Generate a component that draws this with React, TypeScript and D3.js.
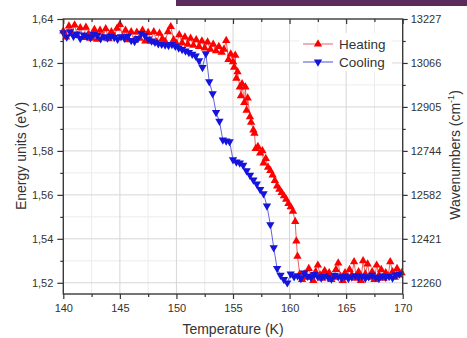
import React, { useEffect, useRef } from 'react';
import * as d3 from 'd3';

// tick values and labels
const tempTicks = [140, 145, 150, 155, 160, 165, 170];
const tempMinor = [142.5, 147.5, 152.5, 157.5, 162.5, 167.5];
const energyTicks = [1.52, 1.54, 1.56, 1.58, 1.6, 1.62, 1.64];
const energyMinor = [1.53, 1.55, 1.57, 1.59, 1.61, 1.63];
const energyLabels = ['1,52', '1,54', '1,56', '1,58', '1,60', '1,62', '1,64'];
const waveLabels = ['12260', '12421', '12582', '12744', '12905', '13066', '13227'];

// [temperature K, energy eV]
const heating: [number, number][] = [
  [140.0, 1.6345], [140.25, 1.6318], [140.5, 1.6368], [140.75, 1.6335], [141.0, 1.6372],
  [141.25, 1.6325], [141.5, 1.6360], [141.75, 1.6315], [142.0, 1.6362], [142.25, 1.6330],
  [142.5, 1.6312], [142.75, 1.6352], [143.0, 1.6308], [143.25, 1.6348], [143.5, 1.6318],
  [143.75, 1.6355], [144.0, 1.6310], [144.25, 1.6342], [144.5, 1.6322], [144.75, 1.6358],
  [145.0, 1.6375], [145.25, 1.6318], [145.5, 1.6348], [145.75, 1.6305], [146.0, 1.6342],
  [146.25, 1.6302], [146.5, 1.6340], [146.75, 1.6312], [147.0, 1.6348], [147.25, 1.6300],
  [147.5, 1.6338], [147.75, 1.6298], [148.0, 1.6342], [148.25, 1.6295], [148.5, 1.6335],
  [148.75, 1.6310], [149.0, 1.6298], [149.25, 1.6342], [149.5, 1.6365], [149.75, 1.6305],
  [150.0, 1.6288], [150.25, 1.6328], [150.5, 1.6292], [150.75, 1.6318], [151.0, 1.6285],
  [151.25, 1.6312], [151.5, 1.6280], [151.75, 1.6305], [152.0, 1.6275], [152.25, 1.6300],
  [152.5, 1.6268], [152.75, 1.6295], [153.0, 1.6262], [153.25, 1.6285], [153.5, 1.6255],
  [153.75, 1.6275],
  [154.0, 1.6248], [154.2, 1.6262], [154.4, 1.6302], [154.6, 1.6215], [154.8, 1.6240],
  [155.0, 1.6205], [155.1, 1.6180], [155.2, 1.6235], [155.3, 1.6130], [155.4, 1.6160],
  [155.6, 1.6090], [155.7, 1.6050], [155.8, 1.6105], [156.0, 1.6020], [156.1, 1.6090],
  [156.2, 1.5985], [156.3, 1.6040], [156.5, 1.5955], [156.6, 1.5930], [156.8, 1.5895],
  [156.9, 1.5880], [157.0, 1.5810], [157.2, 1.5820], [157.4, 1.5790], [157.6, 1.5800],
  [157.7, 1.5745], [157.9, 1.5765], [158.1, 1.5725], [158.3, 1.5710], [158.5, 1.5690],
  [158.7, 1.5665], [158.9, 1.5640], [159.1, 1.5625], [159.3, 1.5610], [159.5, 1.5595],
  [159.7, 1.5580], [159.9, 1.5560], [160.1, 1.5545], [160.3, 1.5525], [160.5, 1.5478],
  [160.6, 1.5390], [160.7, 1.5320], [160.9, 1.5240],
  [161.1, 1.5215], [161.3, 1.5240], [161.5, 1.5225], [161.7, 1.5265], [161.9, 1.5230],
  [162.1, 1.5210], [162.3, 1.5250], [162.5, 1.5280], [162.7, 1.5235], [162.9, 1.5220],
  [163.1, 1.5255], [163.3, 1.5230], [163.5, 1.5245], [163.7, 1.5215], [163.9, 1.5225],
  [164.1, 1.5260], [164.3, 1.5290], [164.5, 1.5230], [164.7, 1.5210], [164.9, 1.5245],
  [165.1, 1.5225], [165.3, 1.5260], [165.5, 1.5235], [165.7, 1.5295], [165.9, 1.5220],
  [166.1, 1.5250], [166.3, 1.5210], [166.5, 1.5300], [166.7, 1.5240], [166.9, 1.5285],
  [167.1, 1.5225], [167.3, 1.5250], [167.5, 1.5215], [167.7, 1.5280], [167.9, 1.5235],
  [168.1, 1.5260], [168.3, 1.5220], [168.5, 1.5245], [168.7, 1.5230], [168.9, 1.5295],
  [169.1, 1.5250], [169.3, 1.5225], [169.5, 1.5265], [169.7, 1.5235], [169.9, 1.5245],
];

const cooling: [number, number][] = [
  [140.0, 1.6338], [140.3, 1.6318], [140.6, 1.6342], [140.9, 1.6322], [141.2, 1.6332],
  [141.5, 1.6312], [141.8, 1.6328], [142.1, 1.6320], [142.4, 1.6315], [142.7, 1.6330],
  [143.0, 1.6325], [143.3, 1.6310], [143.6, 1.6320], [143.9, 1.6314], [144.2, 1.6322],
  [144.5, 1.6316], [144.8, 1.6308], [145.1, 1.6320], [145.4, 1.6313], [145.7, 1.6322],
  [146.0, 1.6303], [146.3, 1.6298], [146.6, 1.6312], [146.9, 1.6335], [147.2, 1.6325],
  [147.5, 1.6310], [147.8, 1.6300], [148.1, 1.6295], [148.4, 1.6288], [148.7, 1.6285],
  [149.0, 1.6282], [149.3, 1.6280], [149.6, 1.6284], [149.9, 1.6276], [150.2, 1.6268],
  [150.5, 1.6262], [150.8, 1.6255], [151.1, 1.6248], [151.4, 1.6240], [151.7, 1.6232],
  [152.0, 1.6210], [152.3, 1.6180], [152.6, 1.6242], [152.9, 1.6115], [153.2, 1.6060],
  [153.5, 1.5975], [153.8, 1.5935], [154.1, 1.5850], [154.4, 1.5845], [154.7, 1.5842],
  [155.0, 1.5760], [155.3, 1.5750], [155.6, 1.5745], [155.9, 1.5735], [156.2, 1.5710],
  [156.5, 1.5690], [156.8, 1.5668], [157.1, 1.5650], [157.4, 1.5625], [157.7, 1.5605],
  [158.0, 1.5550], [158.3, 1.5465], [158.6, 1.5360], [158.9, 1.5265], [159.2, 1.5235],
  [159.5, 1.5215], [159.8, 1.5200], [160.1, 1.5240], [160.4, 1.5228], [160.7, 1.5232],
  [161.0, 1.5220], [161.3, 1.5245], [161.6, 1.5230], [161.9, 1.5225], [162.2, 1.5238],
  [162.5, 1.5228], [162.8, 1.5222], [163.1, 1.5232], [163.4, 1.5226], [163.7, 1.5218],
  [164.0, 1.5235], [164.3, 1.5228], [164.6, 1.5222], [164.9, 1.5230], [165.2, 1.5220],
  [165.5, 1.5227], [165.8, 1.5233], [166.1, 1.5224], [166.4, 1.5230], [166.7, 1.5221],
  [167.0, 1.5228], [167.3, 1.5235], [167.6, 1.5226], [167.9, 1.5220], [168.2, 1.5231],
  [168.5, 1.5225], [168.8, 1.5229], [169.1, 1.5222], [169.4, 1.5236], [169.7, 1.5240],
];

const FONT = '"Liberation Sans", Arial, sans-serif';
const RED = '#ff0000';
const BLUE = '#1414dc';

const App = () => {
  const svgRef = useRef<SVGSVGElement>(null);

  useEffect(() => {
    const svg = d3.select(svgRef.current);
    svg.selectAll('*').remove();

    const left = 63.3, right = 402.7, top = 19, bottom = 294;
    const x = d3.scaleLinear().domain([140, 170]).range([left, right]);
    const y = d3.scaleLinear().domain([1.5149, 1.64]).range([bottom, top]);

    svg.append('rect').attr('width', 467).attr('height', 338).attr('fill', '#fff');
    // purple strip from the slide
    svg.append('rect').attr('x', 176).attr('y', 0).attr('width', 291).attr('height', 6).attr('fill', '#5b2b5e');

    // grid
    const grid = svg.append('g');
    grid.selectAll('.vmin').data(tempMinor).enter().append('line')
      .attr('x1', d => x(d)).attr('x2', d => x(d)).attr('y1', top).attr('y2', bottom)
      .attr('stroke', '#ececec').attr('stroke-width', 1);
    grid.selectAll('.hmin').data(energyMinor).enter().append('line')
      .attr('x1', left).attr('x2', right).attr('y1', d => y(d)).attr('y2', d => y(d))
      .attr('stroke', '#ececec').attr('stroke-width', 1);
    grid.selectAll('.vmaj').data(tempTicks.slice(1, -1)).enter().append('line')
      .attr('x1', d => x(d)).attr('x2', d => x(d)).attr('y1', top).attr('y2', bottom)
      .attr('stroke', '#d6d6d6').attr('stroke-width', 1);
    grid.selectAll('.hmaj').data(energyTicks.slice(0, -1)).enter().append('line')
      .attr('x1', left).attr('x2', right).attr('y1', d => y(d)).attr('y2', d => y(d))
      .attr('stroke', '#d6d6d6').attr('stroke-width', 1);

    // series
    const line = d3.line<[number, number]>().x(d => x(d[0])).y(d => y(d[1]));
    const tri = d3.symbol().type(d3.symbolTriangle).size(30)();

    svg.append('path').datum(heating).attr('d', line)
      .attr('fill', 'none').attr('stroke', '#e03a3a').attr('stroke-width', 0.8);
    svg.append('g').selectAll('path').data(heating).enter().append('path')
      .attr('d', tri).attr('transform', d => `translate(${x(d[0])},${y(d[1])})`)
      .attr('fill', RED);

    svg.append('path').datum(cooling).attr('d', line)
      .attr('fill', 'none').attr('stroke', '#3a3ad8').attr('stroke-width', 0.8);
    svg.append('g').selectAll('path').data(cooling).enter().append('path')
      .attr('d', tri).attr('transform', d => `translate(${x(d[0])},${y(d[1])}) rotate(180)`)
      .attr('fill', BLUE);

    // axes
    const styleAxis = (g) => {
      g.select('.domain').remove();
      g.selectAll('line').attr('stroke', '#333').attr('stroke-width', 1.2);
      g.selectAll('text').attr('font-family', FONT).attr('font-size', 11).attr('fill', '#333');
    };

    svg.append('g').attr('transform', `translate(${left},0)`)
      .call(d3.axisLeft(y).tickValues(energyTicks).tickFormat((d, i) => energyLabels[i]).tickSize(6).tickPadding(4))
      .call(styleAxis);
    svg.append('g').attr('transform', `translate(${left},0)`)
      .call(d3.axisLeft(y).tickValues(energyMinor).tickFormat(() => '').tickSize(3))
      .call(styleAxis);

    svg.append('g').attr('transform', `translate(${right},0)`)
      .call(d3.axisRight(y).tickValues(energyTicks).tickFormat((d, i) => waveLabels[i]).tickSize(5).tickPadding(3))
      .call(styleAxis);
    svg.append('g').attr('transform', `translate(${right},0)`)
      .call(d3.axisRight(y).tickValues(energyMinor).tickFormat(() => '').tickSize(3))
      .call(styleAxis);

    svg.append('g').attr('transform', `translate(0,${bottom})`)
      .call(d3.axisBottom(x).tickValues(tempTicks).tickFormat(d3.format('d')).tickSize(5).tickPadding(5))
      .call(styleAxis);
    svg.append('g').attr('transform', `translate(0,${bottom})`)
      .call(d3.axisBottom(x).tickValues(tempMinor).tickFormat(() => '').tickSize(3))
      .call(styleAxis);

    svg.append('g').attr('transform', `translate(0,${top})`)
      .call(d3.axisTop(x).tickValues(tempTicks).tickFormat(() => '').tickSize(-5))
      .call(styleAxis);
    svg.append('g').attr('transform', `translate(0,${top})`)
      .call(d3.axisTop(x).tickValues(tempMinor).tickFormat(() => '').tickSize(-3))
      .call(styleAxis);

    // frame
    svg.append('rect').attr('x', left).attr('y', top).attr('width', right - left).attr('height', bottom - top)
      .attr('fill', 'none').attr('stroke', '#3a3a3a').attr('stroke-width', 1.4);

    // axis titles
    svg.append('text').attr('x', (left + right) / 2).attr('y', 334).attr('text-anchor', 'middle')
      .attr('font-family', FONT).attr('font-size', 14).attr('fill', '#333').text('Temperature (K)');
    svg.append('text').attr('transform', `translate(26,156) rotate(-90)`).attr('text-anchor', 'middle')
      .attr('font-family', FONT).attr('font-size', 14).attr('fill', '#333').text('Energy units (eV)');
    const wn = svg.append('text').attr('transform', `translate(460,155) rotate(-90)`).attr('text-anchor', 'middle')
      .attr('font-family', FONT).attr('font-size', 14).attr('fill', '#333');
    wn.append('tspan').text('Wavenumbers (cm');
    wn.append('tspan').attr('font-size', 9).attr('dy', -6).text('-1');
    wn.append('tspan').attr('dy', 6).text(')');

    // legend
    const leg = svg.append('g');
    leg.append('rect').attr('x', 299).attr('y', 33).attr('width', 93).attr('height', 38).attr('fill', '#fff');
    const items = [
      { name: 'Heating', color: RED, lineColor: '#e85050', rot: 0, cy: 44 },
      { name: 'Cooling', color: BLUE, lineColor: '#3a3ad8', rot: 180, cy: 62 },
    ];
    items.forEach(it => {
      leg.append('line').attr('x1', 303).attr('x2', 333).attr('y1', it.cy).attr('y2', it.cy)
        .attr('stroke', it.lineColor).attr('stroke-width', 0.9);
      leg.append('path').attr('d', tri).attr('transform', `translate(318,${it.cy}) rotate(${it.rot})`).attr('fill', it.color);
      leg.append('text').attr('x', 339).attr('y', it.cy + 5).attr('font-family', FONT).attr('font-size', 13.5)
        .attr('fill', '#333').text(it.name);
    });
  }, []);

  return <svg ref={svgRef} width={467} height={338} style={{ position: 'absolute', left: 0, top: 0 }}></svg>;
};

export default App;
